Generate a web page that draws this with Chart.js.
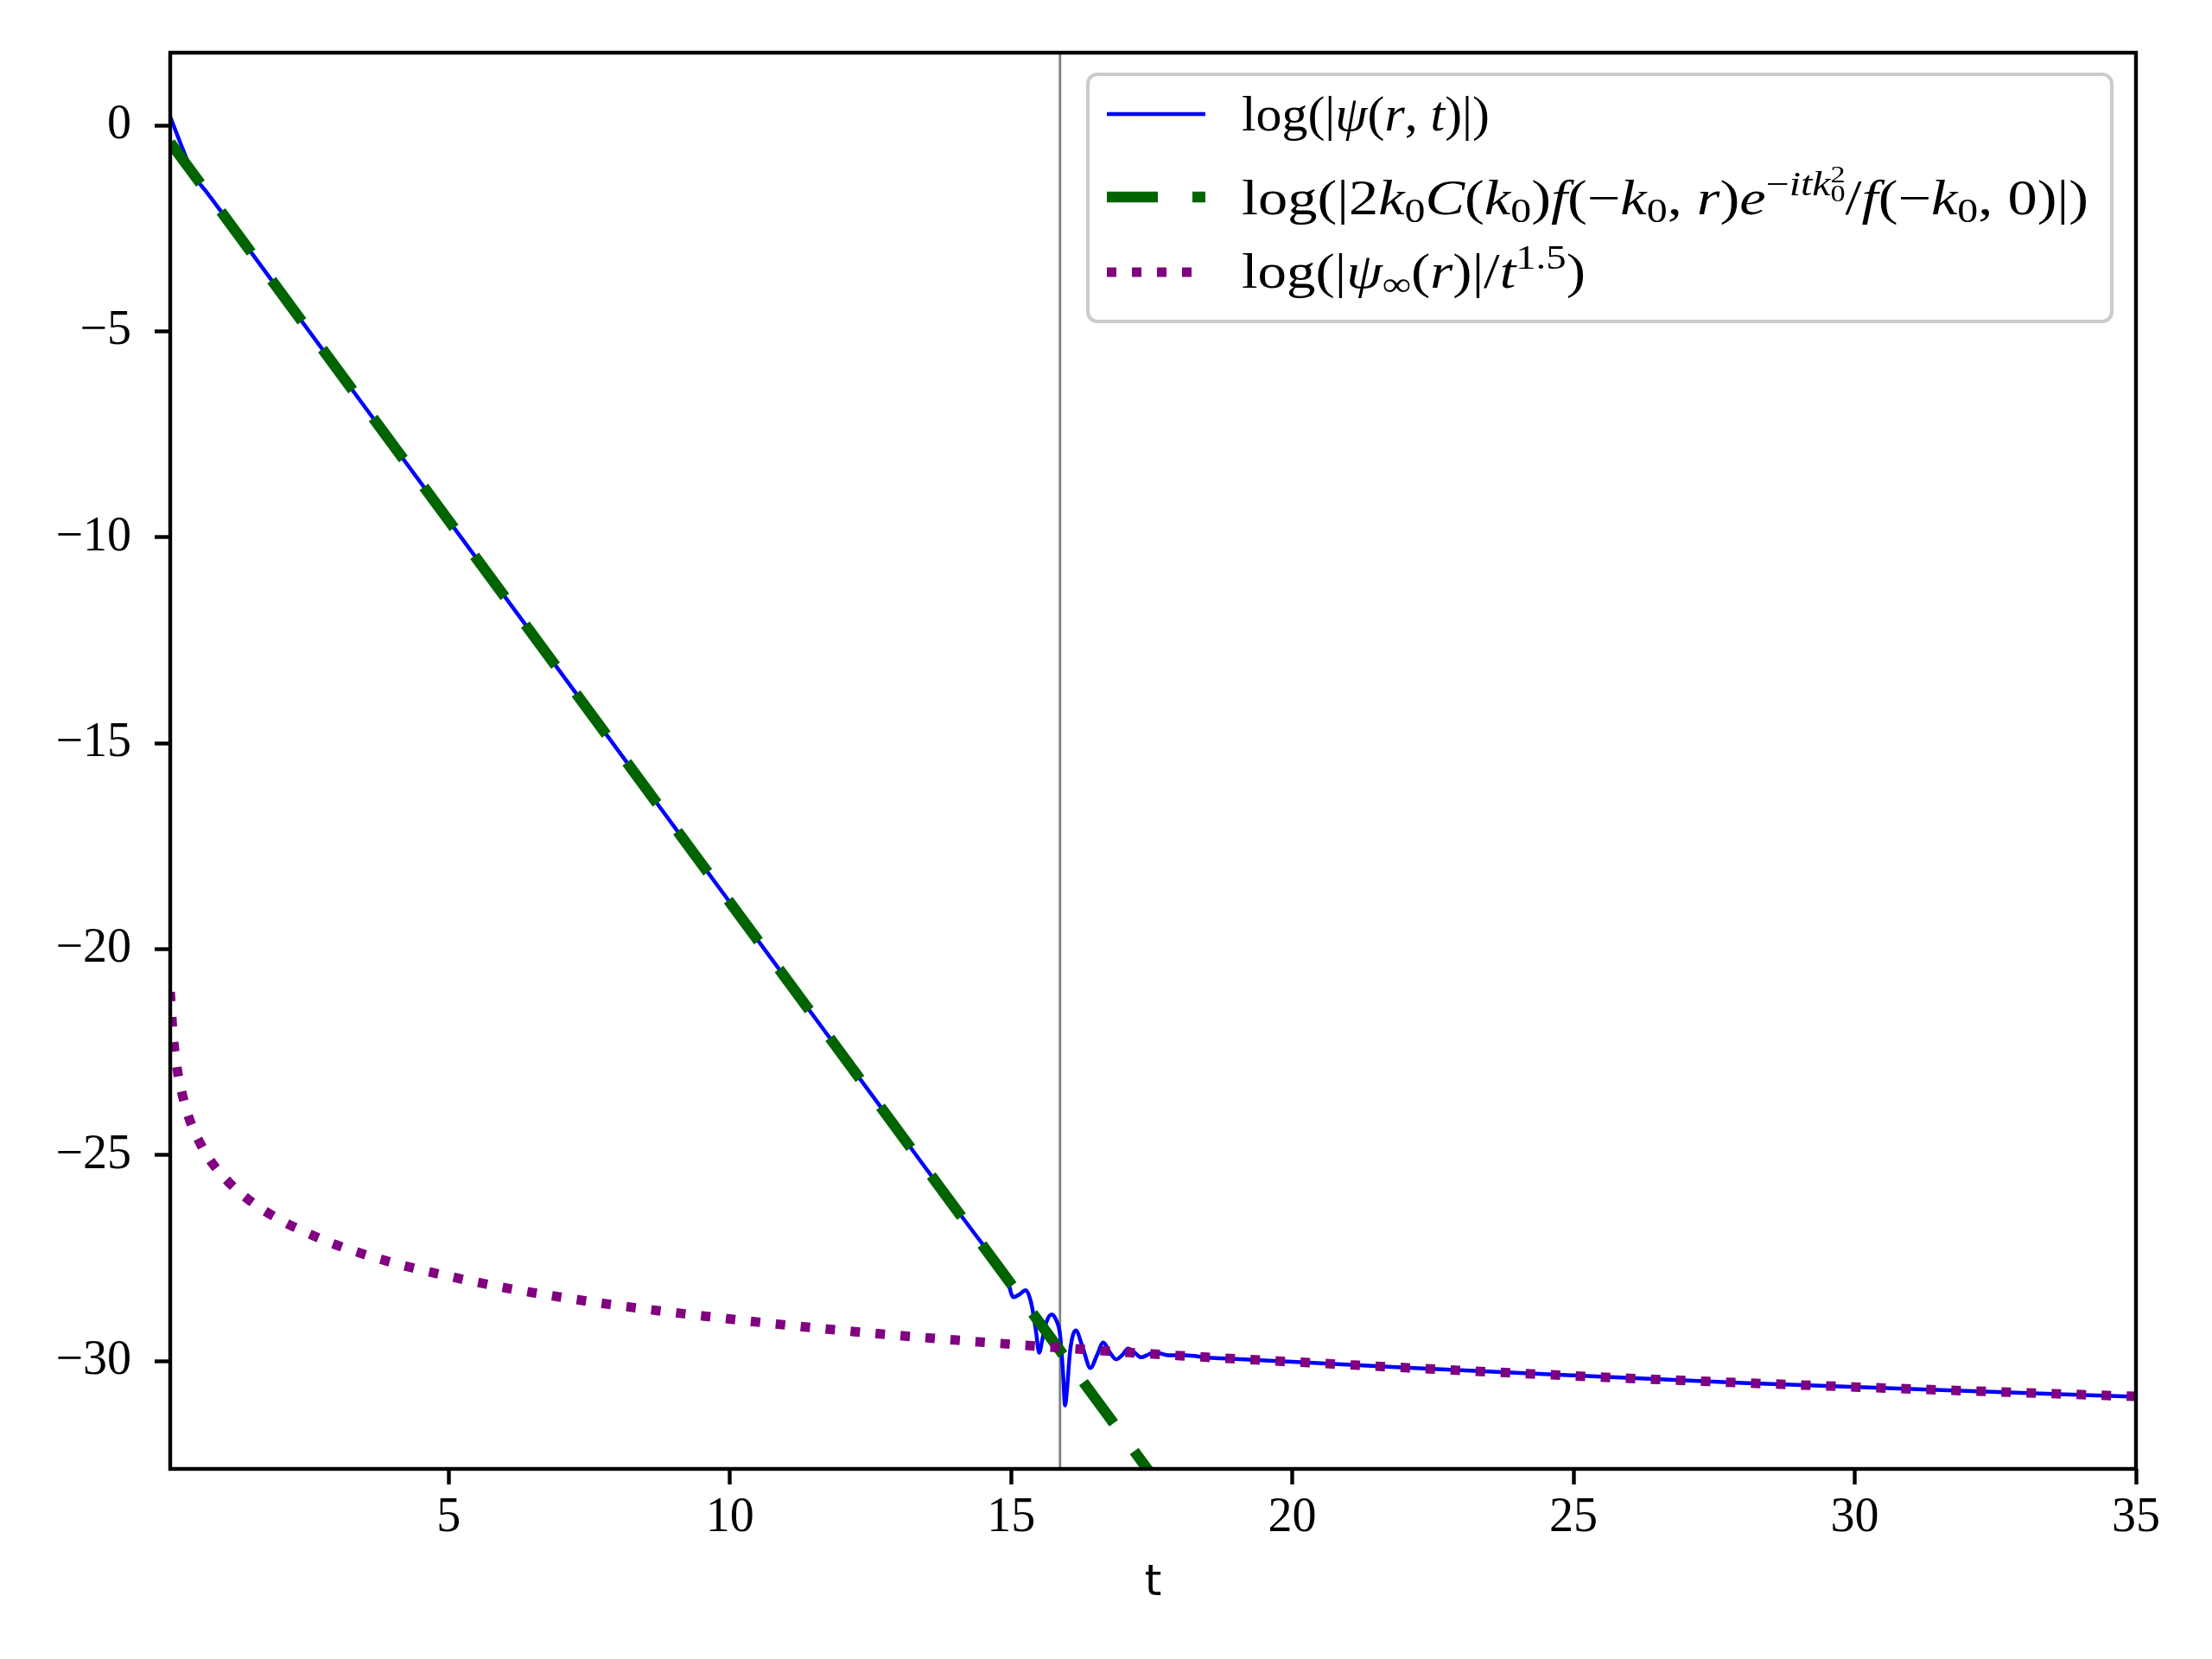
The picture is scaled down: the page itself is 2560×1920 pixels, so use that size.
<!DOCTYPE html>
<html>
<head>
<meta charset="utf-8">
<style>
html,body{margin:0;padding:0;background:#ffffff;}
canvas{display:block;}
</style>
<script src="https://cdn.jsdelivr.net/npm/chart.js@4.4.0/dist/chart.umd.min.js"></script>
</head>
<body>
<canvas id="c" width="2560" height="1920"></canvas>
<script>
// ---------------- data ----------------
const psiT = [0.05, 0.15, 0.25, 0.35, 0.45, 0.55, 0.7, 1.0, 2.0, 4.0, 6.0, 8.0, 10.0, 12.0, 13.0, 13.5, 13.9, 14.2, 14.5, 14.7, 14.8,
  14.92, 15.04, 15.15, 15.26, 15.36, 15.44, 15.5, 15.56, 15.63, 15.72, 15.8, 15.87, 15.92, 15.96, 16.0, 16.05, 16.15,
  16.28, 16.41, 16.53, 16.64, 16.76, 16.87, 16.98, 17.08, 17.2, 17.31, 17.43, 17.54, 17.66, 17.8, 18.1, 18.5, 19.0,
  20.0, 22.0, 25.0, 28.0, 31.0, 35.0];
const psiY = [0.21, -0.14, -0.49, -0.83, -1.12, -1.36, -1.62, -2.17, -4.03, -7.74, -11.44, -15.15, -18.86, -22.57, -24.42, -25.35, -26.08, -26.63, -27.17, -27.5, -27.62,
  -27.94, -28.45, -28.38, -28.28, -28.6, -29.25, -29.8, -29.45, -29.05, -28.87, -29.0, -29.35, -30.2, -31.08, -30.6, -29.75, -29.26,
  -29.7, -30.17, -29.85, -29.55, -29.8, -29.96, -29.85, -29.7, -29.8, -29.91, -29.85, -29.79, -29.82, -29.86, -29.86, -29.92, -29.95,
  -30.02, -30.16, -30.35, -30.53, -30.68, -30.87];

const asymT = [0.05, 5.0, 10.0, 15.0, 17.6];
const asymY = [-0.41, -9.59, -18.86, -28.13, -32.95];

const infT = [0.05, 0.1, 0.15, 0.2, 0.3, 0.4, 0.6, 0.8, 1.1, 1.5, 2.0, 2.5, 3.0, 4.0, 5.0, 6.0, 7.0, 8.0, 10.0, 12.0, 14.0,
  16.0, 18.0, 20.0, 23.0, 26.0, 30.0, 35.0];
const infY = [-21.04, -22.08, -22.69, -23.12, -23.72, -24.16, -24.76, -25.2, -25.67, -26.14, -26.57, -26.9, -27.18, -27.61, -27.94, -28.22, -28.45, -28.65, -28.98, -29.26, -29.49,
  -29.69, -29.87, -30.02, -30.23, -30.42, -30.63, -30.86];

const markerT = [15.87, 15.87];
const markerY = [-40, 10];

const xTicks = [5, 10, 15, 20, 25, 30, 35];
const yTicks = [0, -5, -10, -15, -20, -25, -30];
const xRange = [0.05, 35];
const yRange = [-32.62, 1.77];
const xTitle = 't';

const seriesLabels = [
  'log(|ψ(r,t)|)',
  'log(|2k₀C(k₀)f(−k₀,r)e^(−itk₀²)/f(−k₀,0)|)',
  'log(|ψ∞(r)|/t^1.5)'
];

// ---------------- helpers ----------------
const pts = (xs, ys) => xs.map((x, i) => ({x: x, y: ys[i]}));
const fmt = v => (v < 0 ? '\u2212' + Math.abs(v) : String(v));

const SERIF = '"Liberation Serif", "DejaVu Serif", serif';

// rich text legend rows (math-like segments)
const ST = {
  r:    {it: false, sz: 1.0, dy: 0},
  i:    {it: true,  sz: 1.0, dy: 0},
  sub:  {it: false, sz: 0.7, dy: 0.16},
  sup:  {it: false, sz: 0.7, dy: -0.40},
  supi: {it: true,  sz: 0.7, dy: -0.40},
  ssup: {it: false, sz: 0.5, dy: -0.66, noadv: true},
  ssub: {it: false, sz: 0.5, dy: -0.26}
};
const legendRows = [
  {ds: 0, segs: [['log(|','r'],['ψ','i'],['(','r'],['r','i'],[', ','r'],['t','i'],[')|)','r']]},
  {ds: 1, segs: [['log(|2','r'],['k','i'],['0','sub'],['C','i'],['(','r'],['k','i'],['0','sub'],[')','r'],['f','i'],['(−','r'],['k','i'],['0','sub'],[', ','r'],['r','i'],[')','r'],['e','i'],['−','sup'],['itk','supi'],['2','ssup'],['0','ssub'],['/','r'],['f','i'],['(−','r'],['k','i'],['0','sub'],[', 0)|)','r']]},
  {ds: 2, segs: [['log(|','r'],['ψ','i'],['∞','sub'],['(','r'],['r','i'],[')|/','r'],['t','i'],['1.5','sup'],[')','r']]}
];

const LEG = {
  box: {l: 1259, t: 86, r: 2444, b: 372, rad: 11},
  handleX: [1281, 1395],
  textX: 1437,
  baselines: [151, 248, 333],
  handleY: [132, 228, 315],
  widths: [287, 980, 398],
  fs: 56
};

function segFont(st, fs) {
  return (st.it ? 'italic ' : '') + (fs * st.sz).toFixed(1) + 'px ' + SERIF;
}
function drawRich(ctx, segs, x0, base, fs, targetW) {
  let w = 0;
  for (const [txt, s] of segs) {
    const st = ST[s];
    ctx.font = segFont(st, fs);
    if (!st.noadv) w += ctx.measureText(txt).width;
  }
  const sx = targetW / w;
  ctx.save();
  ctx.translate(x0, base);
  ctx.scale(sx, 1);
  ctx.fillStyle = '#000000';
  ctx.textBaseline = 'alphabetic';
  ctx.textAlign = 'left';
  let x = 0;
  for (const [txt, s] of segs) {
    const st = ST[s];
    ctx.font = segFont(st, fs);
    ctx.fillText(txt, x, st.dy * fs);
    if (!st.noadv) x += ctx.measureText(txt).width;
  }
  ctx.restore();
}

const framePlugin = {
  id: 'frame',
  afterDatasetsDraw(chart) {
    const {ctx, chartArea: a} = chart;
    ctx.save();
    ctx.strokeStyle = '#000000';
    ctx.lineWidth = 4.4;
    ctx.lineJoin = 'miter';
    ctx.strokeRect(a.left, a.top, a.right - a.left, a.bottom - a.top);
    ctx.restore();
  }
};

const legendPlugin = {
  id: 'mplLegend',
  afterDraw(chart) {
    const ctx = chart.ctx;
    const b = LEG.box;
    ctx.save();
    ctx.beginPath();
    ctx.roundRect(b.l, b.t, b.r - b.l, b.b - b.t, b.rad);
    ctx.fillStyle = 'rgba(255,255,255,0.8)';
    ctx.fill();
    ctx.lineWidth = 4.2;
    ctx.strokeStyle = '#cccccc';
    ctx.stroke();
    ctx.restore();
    legendRows.forEach((row, k) => {
      const ds = chart.data.datasets[row.ds];
      ctx.save();
      ctx.beginPath();
      ctx.strokeStyle = ds.borderColor;
      ctx.lineWidth = ds.borderWidth;
      ctx.lineCap = 'butt';
      ctx.setLineDash(ds.borderDash || []);
      ctx.moveTo(LEG.handleX[0], LEG.handleY[k]);
      ctx.lineTo(LEG.handleX[1], LEG.handleY[k]);
      ctx.stroke();
      ctx.restore();
      drawRich(ctx, row.segs, LEG.textX, LEG.baselines[k], LEG.fs, LEG.widths[k]);
    });
  }
};

const tickFont = {family: SERIF, size: 56};

new Chart(document.getElementById('c'), {
  type: 'line',
  data: {
    datasets: [
      {label: seriesLabels[0], data: pts(psiT, psiY), borderColor: '#0000ff', borderWidth: 4.5,
       pointRadius: 0, cubicInterpolationMode: 'monotone', fill: false, order: 2, clip: 0},
      {label: seriesLabels[1], data: pts(asymT, asymY), borderColor: '#006400', borderWidth: 12.5,
       borderDash: [59, 40], borderCapStyle: 'butt', pointRadius: 0, tension: 0, fill: false, order: 1, clip: 0},
      {label: seriesLabels[2], data: pts(infT, infY), borderColor: '#800080', borderWidth: 11,
       borderDash: [11, 18], borderCapStyle: 'butt', pointRadius: 0, cubicInterpolationMode: 'monotone', fill: false, order: 0, clip: 0},
      {label: 'marker', data: pts(markerT, markerY), borderColor: '#808080', borderWidth: 2.8,
       pointRadius: 0, tension: 0, fill: false, order: 3, clip: 0}
    ]
  },
  options: {
    responsive: false,
    devicePixelRatio: 1,
    animation: false,
    events: [],
    layout: {padding: {left: 0, top: 61, right: 88, bottom: 0}},
    plugins: {legend: {display: false}, tooltip: {enabled: false}, title: {display: false}},
    scales: {
      x: {
        type: 'linear', position: 'bottom', min: xRange[0], max: xRange[1],
        afterBuildTicks: s => { s.ticks = xTicks.map(v => ({value: v})); },
        afterFit: s => { s.height = 220; },
        grid: {display: true, drawOnChartArea: false, drawTicks: true, tickLength: 18, tickWidth: 4.4, tickColor: '#000000'},
        border: {display: false},
        ticks: {font: tickFont, color: '#000000', padding: 6, maxRotation: 0, autoSkip: false, callback: v => fmt(v)},
        title: {display: true, text: xTitle, color: '#000000', font: {family: '"DejaVu Sans", sans-serif', size: 50}, padding: {top: 0, bottom: 57}}
      },
      y: {
        type: 'linear', position: 'left', min: yRange[0], max: yRange[1],
        afterBuildTicks: s => { s.ticks = yTicks.map(v => ({value: v})); },
        afterFit: s => { s.width = 197; },
        grid: {display: true, drawOnChartArea: false, drawTicks: true, tickLength: 18, tickWidth: 4.4, tickColor: '#000000'},
        border: {display: false},
        ticks: {font: tickFont, color: '#000000', padding: 27, autoSkip: false, callback: v => fmt(v)}
      }
    }
  },
  plugins: [framePlugin, legendPlugin]
});
</script>
</body>
</html>
